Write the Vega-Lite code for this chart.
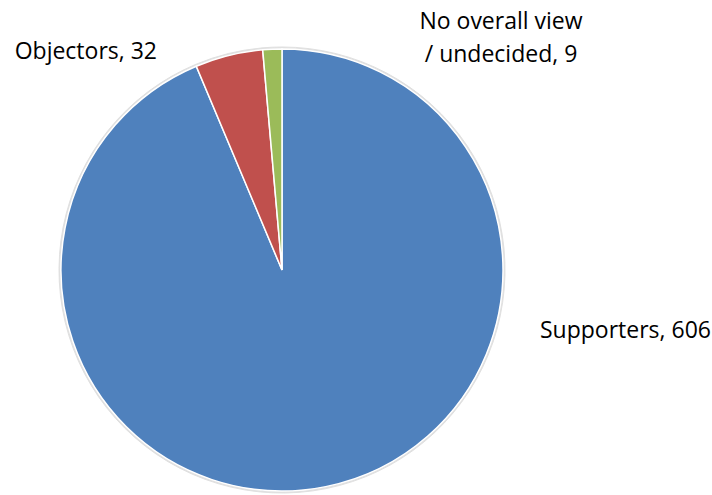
{
  "$schema": "https://vega.github.io/schema/vega-lite/v6.json",
  "autosize": "none",
  "width": 564,
  "height": 450,
  "padding": {"left": 0, "top": 45, "right": 148, "bottom": 0},
  "background": "white",
  "data": {
    "values": [
      {"category": "Supporters", "value": 606, "label": "Supporters, 606"},
      {"category": "Objectors", "value": 32, "label": "Objectors, 32"},
      {"category": "No overall view / undecided", "value": 9, "label": "No overall view\n/ undecided, 9"}
    ]
  },
  "encoding": {
    "theta": {"field": "value", "type": "quantitative", "stack": true},
    "order": {"field": "category", "sort": "descending"}
  },
  "layer": [
    {
      "mark": {"type": "arc", "radius": 223, "stroke": "#e0e0e0", "strokeWidth": 1},
      "encoding": {"color": {"value": "#e0e0e0"}}
    },
    {
      "mark": {"type": "arc", "radius": 221, "stroke": "white", "strokeWidth": 1.5},
      "encoding": {
        "color": {
          "field": "category",
          "type": "nominal",
          "scale": {
            "domain": ["Supporters", "Objectors", "No overall view / undecided"],
            "range": ["#4F81BD", "#C0504D", "#9BBB59"]
          },
          "legend": null
        }
      }
    },
    {
      "transform": [{"filter": "datum.category === 'Supporters'"}],
      "mark": {"type": "text", "font": "Open Sans", "fontSize": 23, "color": "black", "align": "left", "baseline": "alphabetic", "dx": 258, "dy": 68},
      "encoding": {"text": {"field": "label"}, "theta": null, "order": null}
    },
    {
      "transform": [{"filter": "datum.category === 'Objectors'"}],
      "mark": {"type": "text", "font": "Open Sans", "fontSize": 23, "color": "black", "align": "right", "baseline": "alphabetic", "dx": -125, "dy": -211},
      "encoding": {"text": {"field": "label"}, "theta": null, "order": null}
    },
    {
      "transform": [{"filter": "datum.category === 'No overall view / undecided'"}],
      "mark": {"type": "text", "font": "Open Sans", "fontSize": 23, "color": "black", "align": "center", "baseline": "alphabetic", "lineBreak": "\n", "lineHeight": 33, "dx": 219, "dy": -241},
      "encoding": {"text": {"field": "label"}, "theta": null, "order": null}
    }
  ]
}
